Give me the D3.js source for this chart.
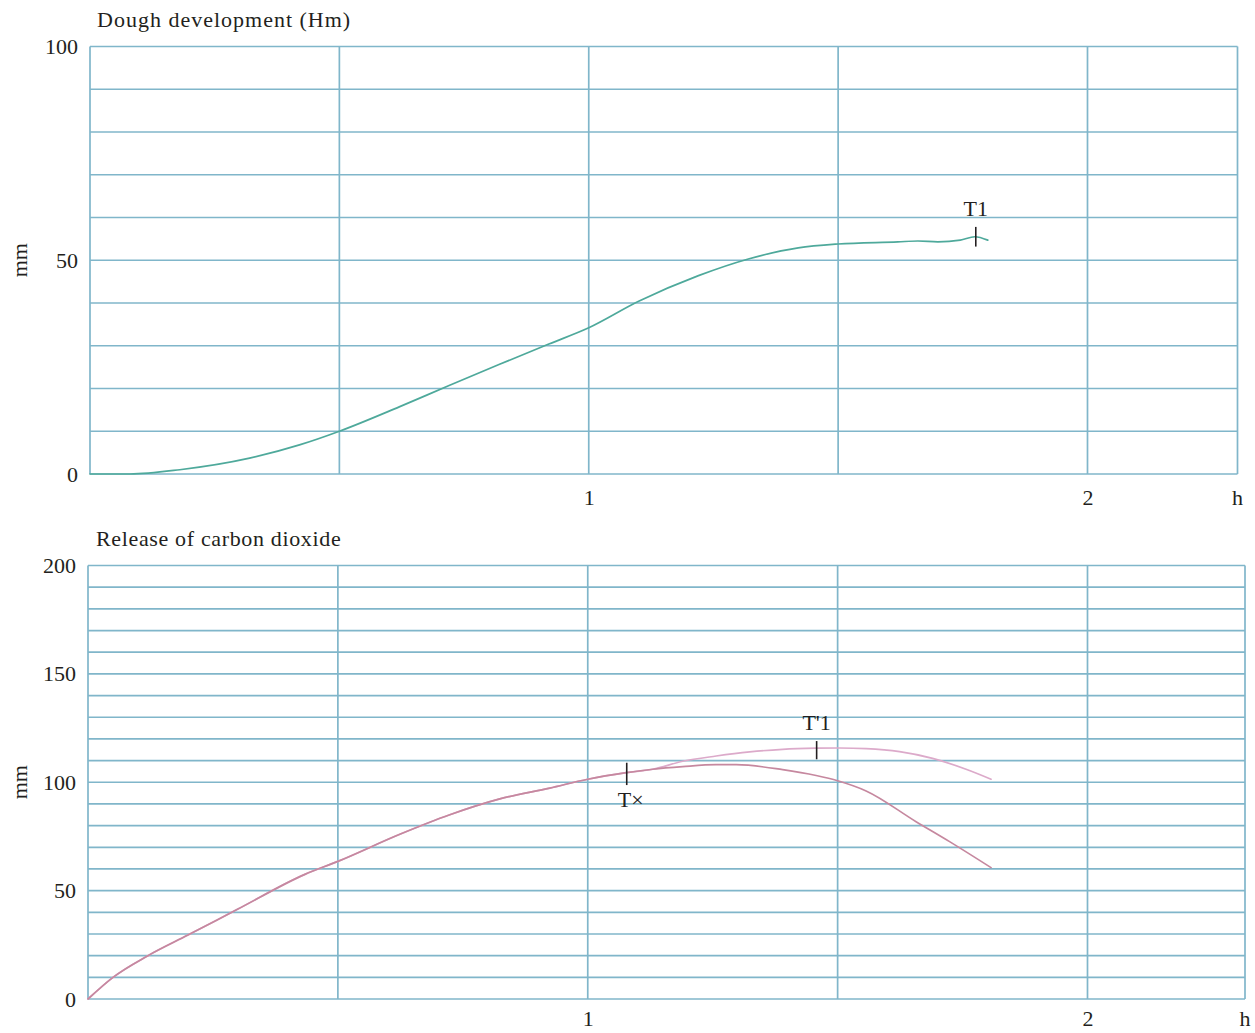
<!DOCTYPE html>
<html>
<head>
<meta charset="utf-8">
<script src="https://cdn.jsdelivr.net/npm/d3@7"></script>
<style>
  html, body { margin: 0; padding: 0; background: #ffffff; }
  svg { display: block; }
  text { font-family: "Liberation Serif", "Times New Roman", serif; fill: #231f20; }
</style>
</head>
<body>
<svg id="chart" width="1255" height="1033"></svg>
<script>
// ---------- data ----------
const topTitle = "Dough development (Hm)";
const bottomTitle = "Release of carbon dioxide";
const yUnit = "mm";
const xUnit = "h";
const xTickValues = [1, 2];
const topYTicks = [0, 50, 100];
const bottomYTicks = [0, 50, 100, 150, 200];

// hours
const doughHours = [0, 0.08, 0.18, 0.32, 0.42, 0.5, 0.62, 0.72, 0.82, 0.92, 1.0, 1.1, 1.22, 1.32, 1.42, 1.5, 1.62, 1.66, 1.70, 1.745, 1.774, 1.80];
// mm
const doughMm = [0, 0, 1, 3.7, 6.8, 10, 15.7, 20.7, 25.6, 30.4, 34.2, 40.4, 46.4, 50.3, 52.9, 53.8, 54.3, 54.5, 54.3, 54.7, 55.5, 54.7];

const co2SharedHours = [0, 0.05, 0.12, 0.2, 0.3, 0.434, 0.5, 0.624, 0.724, 0.824, 0.924, 1.0, 1.077, 1.13];
const co2SharedMm = [0, 10, 20, 29.5, 41.5, 57.5, 63.5, 76, 85, 92.3, 97.3, 101.4, 104.4, 106];

const co2LossHours = [1.19, 1.257, 1.297, 1.39, 1.457, 1.5, 1.557, 1.657, 1.724, 1.807];
const co2LossMm = [107.2, 108.1, 108.1, 105.8, 103.1, 100.7, 96.0, 81.8, 72.6, 60.6];

const co2TotalHours = [1.19, 1.257, 1.324, 1.39, 1.457, 1.504, 1.557, 1.624, 1.69, 1.757, 1.807];
const co2TotalMm = [109.7, 112.1, 114, 115.2, 115.7, 115.8, 115.5, 114.1, 111, 106, 101.4];

// markers: label, hour, low mm, high mm
const topMarkerLabels = ["T1"];
const topMarkerHours = [1.776];
const topMarkerLow = [53.2];
const topMarkerHigh = [57.8];

const bottomMarkerLabels = ["T×", "T'1"];
const bottomMarkerHours = [1.078, 1.458];
const bottomMarkerLow = [98.7, 110.6];
const bottomMarkerHigh = [109, 119];

// ---------- styles ----------
const gridColor = "#80b6ca";
const doughColor = "#4ea99b";
const lossColor = "#c6889f";
const totalColor = "#dcaaca";
const fontSize = 22;

const svg = d3.select("#chart");

function panel(opts) {
  const g = svg.append("g");
  const x = d3.scaleLinear().domain([0, 2]).range([opts.left, opts.x2]);
  const y = d3.scaleLinear().domain([0, opts.ymax]).range([opts.bottom, opts.top]);
  const xMax = x.invert(opts.right);

  // horizontal grid
  g.append("g").selectAll("line")
    .data(d3.range(0, opts.ymax + 1, 10))
    .join("line")
    .attr("x1", x(0)).attr("x2", x(xMax))
    .attr("y1", d => y(d)).attr("y2", d => y(d))
    .attr("stroke", gridColor).attr("stroke-width", 1.7);

  // vertical grid
  g.append("g").selectAll("line")
    .data([0, 0.5, 1, 1.5, 2, xMax])
    .join("line")
    .attr("x1", d => x(d)).attr("x2", d => x(d))
    .attr("y1", y(0)).attr("y2", y(opts.ymax))
    .attr("stroke", gridColor).attr("stroke-width", 1.7);

  // y axis labels
  const ya = g.append("g")
    .attr("transform", `translate(${x(0)},0)`)
    .call(d3.axisLeft(y).tickValues(opts.yTicks).tickSize(0).tickPadding(12));
  ya.select(".domain").remove();
  ya.selectAll("text").style("font-family", '"Liberation Serif", serif')
    .style("font-size", fontSize + "px").attr("fill", "#231f20");

  // x axis labels
  const xa = g.append("g")
    .attr("transform", `translate(0,${y(0)})`)
    .call(d3.axisBottom(x).tickValues(xTickValues).tickFormat(d3.format("d")).tickSize(0).tickPadding(opts.xPad));
  xa.select(".domain").remove();
  xa.selectAll("text").style("font-family", '"Liberation Serif", serif')
    .style("font-size", fontSize + "px").attr("fill", "#231f20");

  g.append("text")
    .attr("x", x(xMax)).attr("y", y(0) + opts.xPad + 15.6)
    .attr("text-anchor", "middle")
    .style("font-size", fontSize + "px")
    .text(xUnit);

  // y unit
  g.append("text")
    .attr("transform", `translate(27,${(y(0) + y(opts.ymax)) / 2}) rotate(-90)`)
    .attr("text-anchor", "middle")
    .style("font-size", fontSize + "px")
    .text(yUnit);

  // title
  g.append("text")
    .attr("x", opts.titleX).attr("y", opts.titleY)
    .style("font-size", fontSize + "px")
    .style("letter-spacing", opts.titleSpacing + "px")
    .text(opts.title);

  return { g, x, y };
}

const topP = panel({ left: 90, x2: 1087.5, right: 1237.5, top: 46.5, bottom: 474, ymax: 100, xPad: 15,
  yTicks: topYTicks, title: topTitle, titleX: 97, titleY: 27, titleSpacing: 1.0 });
const botP = panel({ left: 88, x2: 1087.5, right: 1245, top: 565.5, bottom: 999, ymax: 200, xPad: 11,
  yTicks: bottomYTicks, title: bottomTitle, titleX: 96, titleY: 546, titleSpacing: 0.65 });

// ---------- curves ----------
function drawLine(p, hours, mm, color, width) {
  const pts = hours.map((h, i) => [h, mm[i]]);
  const line = d3.line().x(d => p.x(d[0])).y(d => p.y(d[1])).curve(d3.curveMonotoneX);
  p.g.append("path").datum(pts)
    .attr("d", line)
    .attr("fill", "none")
    .attr("stroke", color)
    .attr("stroke-width", width)
    .attr("stroke-linejoin", "round")
    .attr("stroke-linecap", "round");
}

drawLine(topP, doughHours, doughMm, doughColor, 1.7);
drawLine(botP, co2SharedHours.concat(co2TotalHours), co2SharedMm.concat(co2TotalMm), totalColor, 1.7);
drawLine(botP, co2SharedHours.concat(co2LossHours), co2SharedMm.concat(co2LossMm), lossColor, 1.7);

// ---------- markers ----------
function drawMarkers(p, labels, hours, lows, highs, labelAbove) {
  labels.forEach((lab, i) => {
    p.g.append("line")
      .attr("x1", p.x(hours[i])).attr("x2", p.x(hours[i]))
      .attr("y1", p.y(lows[i])).attr("y2", p.y(highs[i]))
      .attr("stroke", "#231f20").attr("stroke-width", 1.6);
    const above = labelAbove[i];
    p.g.append("text")
      .attr("x", p.x(hours[i]) + (above ? 0 : 4))
      .attr("y", above ? p.y(highs[i]) - 11 : p.y(lows[i]) + 22)
      .attr("text-anchor", "middle")
      .style("font-size", fontSize + "px")
      .text(lab);
  });
}

drawMarkers(topP, topMarkerLabels, topMarkerHours, topMarkerLow, topMarkerHigh, [true]);
drawMarkers(botP, bottomMarkerLabels, bottomMarkerHours, bottomMarkerLow, bottomMarkerHigh, [false, true]);
</script>
</body>
</html>
